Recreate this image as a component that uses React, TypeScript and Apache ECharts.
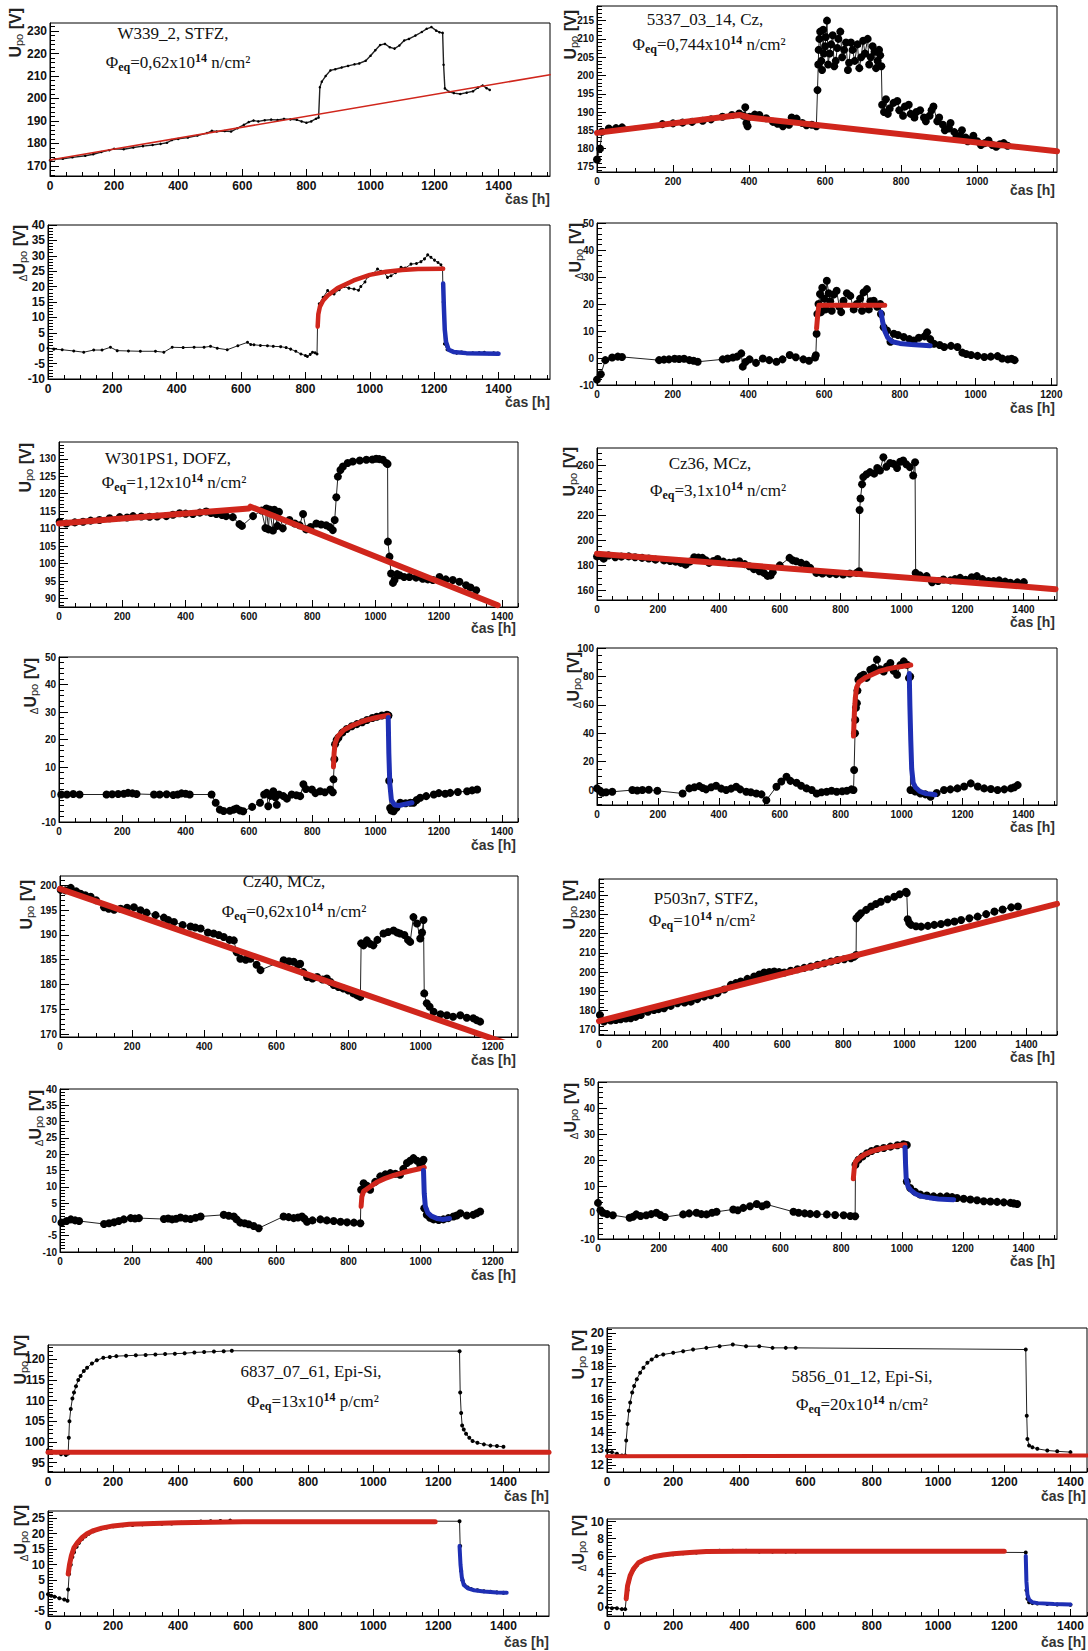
import React, { useEffect, useRef } from 'react';
import * as echarts from 'echarts';

type Pt = [number, number];

// ---------- tick labels ----------
const XT_1400 = [0, 200, 400, 600, 800, 1000, 1200, 1400];
const XT_1200 = [0, 200, 400, 600, 800, 1000, 1200];
const XT_1000 = [0, 200, 400, 600, 800, 1000];
const A1_YT = [170, 180, 190, 200, 210, 220, 230];
const B1_YT = [175, 180, 185, 190, 195, 200, 205, 210, 215];
const A2_YT = [-10, -5, 0, 5, 10, 15, 20, 25, 30, 35, 40];
const B2_YT = [-10, 0, 10, 20, 30, 40, 50];
const A3_YT = [90, 95, 100, 105, 110, 115, 120, 125, 130];
const B3_YT = [160, 180, 200, 220, 240, 260];
const A4_YT = [-10, 0, 10, 20, 30, 40, 50];
const B4_YT = [0, 20, 40, 60, 80, 100];
const A5_YT = [170, 175, 180, 185, 190, 195, 200];
const B5_YT = [170, 180, 190, 200, 210, 220, 230, 240];
const A6_YT = [-10, -5, 0, 5, 10, 15, 20, 25, 30, 35, 40];
const B6_YT = [-10, 0, 10, 20, 30, 40, 50];
const A7_YT = [95, 100, 105, 110, 115, 120];
const B7_YT = [12, 13, 14, 15, 16, 17, 18, 19, 20];
const A8_YT = [-5, 0, 5, 10, 15, 20, 25];
const B8_YT = [0, 2, 4, 6, 8, 10];

// ---------- series values [time h, voltage V] ----------
const A1_DATA: Pt[] = [[0,172.5],[15,173],[40,173.2],[70,173.8],[110,174.5],[135,175.2],[160,176.2],[185,177],[200,177.6],[230,177.4],[260,178.2],[290,178.8],[320,179.3],[345,179.8],[365,180.3],[380,181.5],[400,182],[430,182.6],[460,183.5],[490,184.6],[505,185.6],[520,185.3],[545,185.5],[565,185.3],[585,186.8],[605,188.3],[620,189.5],[635,190.2],[650,189.8],[670,190.3],[690,190.6],[710,190.4],[730,190.9],[750,190.7],[770,190.5],[785,189.8],[800,189.2],[815,189.8],[830,191],[838,191.5],[842,205],[848,207.5],[860,210],[875,212.5],[890,213],[910,213.8],[930,214.5],[950,215.2],[965,215.6],[985,216.8],[1000,219],[1015,221.5],[1030,223.8],[1045,224.3],[1060,222.8],[1075,222.2],[1090,223.6],[1105,225.8],[1120,226.5],[1140,228],[1160,229.6],[1175,231],[1190,231.8],[1205,230.2],[1215,229.5],[1225,229.2],[1228,215],[1232,204.5],[1245,203],[1260,202.4],[1280,202],[1300,202.6],[1320,203.2],[1335,204.8],[1350,205.8],[1362,204.6],[1372,203.8]];
const A1_RED: Pt[] = [[0,172.6],[1560,210.6]];

const A2_DATA: Pt[] = [[0,0],[18,-0.3],[44,-0.5],[80,-0.9],[111,-1.3],[142,-0.6],[168,-0.6],[194,0.3],[215,-0.8],[250,-0.9],[287,-1],[334,-1],[360,-1.3],[386,0.3],[420,0.2],[454,0.3],[485,0.3],[505,0.6],[526,0],[557,-0.5],[590,0.8],[620,1.9],[630,1.2],[640,1.1],[660,0.9],[682,0.8],[700,0.6],[723,0.5],[740,0.2],[754,-0.3],[770,-1],[786,-1.9],[800,-2.4],[806,-2.7],[815,-2],[822,-1.3],[830,-1.5],[836,-1.9],[838,10],[843,14.4],[855,16.5],[869,18.7],[880,17.8],[889,17.6],[905,19],[920,20],[935,19.5],[951,19.2],[965,18.8],[972,20],[985,21.5],[993,23.2],[1010,24.2],[1024,25.7],[1035,25],[1045,24.6],[1055,23],[1066,23.5],[1080,24.5],[1097,26.3],[1110,26],[1128,27.3],[1145,27.5],[1159,28.1],[1170,29],[1180,30.3],[1190,29.5],[1201,28.6],[1212,27.8],[1221,27.1],[1226,26],[1228,15],[1232,1.4],[1240,-0.5],[1253,-0.8],[1270,-1.6],[1285,-1.2],[1305,-1.7],[1320,-1.5],[1340,-1.4],[1356,-1.3],[1370,-1.8],[1385,-1.5],[1398,-1.6]];
const A2_RED: Pt[] = [[838,7],[840,11],[845,13.5],[855,15.5],[870,17.2],[900,19.5],[950,22],[1000,23.8],[1050,24.8],[1100,25.4],[1150,25.7],[1228,25.8]];
const A2_BLUE: Pt[] = [[1228,21],[1230,14],[1233,6],[1237,2],[1245,-0.5],[1260,-1.2],[1300,-1.6],[1350,-1.7],[1400,-1.8]];

const B1_DATA: Pt[] = [[0,177],[8,180],[13,184.6],[31,185.5],[50,185.6],[66,185.8],[172,186.7],[200,186.9],[225,187.1],[250,187.3],[278,187.6],[300,188],[330,188.7],[355,189.2],[374,189.6],[385,189],[390,191.3],[393,187],[396,186.1],[401,188.7],[415,189.3],[427,189.2],[445,188.3],[463,187.3],[475,186.8],[489,186.1],[505,186.5],[512,188.5],[525,188.2],[540,187],[551,186.4],[565,186.5],[577,186.1],[580,196],[582,203],[583,207],[585,210],[587,212],[590,204],[592,201.5],[595,212.5],[597,206],[600,208],[602,210.5],[605,215],[608,203],[612,206],[616,208.5],[620,211],[624,202.5],[628,204],[632,207.5],[635,210],[640,212],[645,205],[650,207],[655,209],[660,201.5],[663,203.5],[668,209],[672,207],[678,204],[685,208.5],[690,202],[695,205],[700,209.5],[705,206],[712,210],[716,203],[720,205],[725,208],[730,206.5],[734,202],[738,204],[742,207],[745,205.5],[748,202.5],[750,192],[755,190],[760,193.5],[765,189.5],[770,191],[780,192.5],[790,193],[795,190.5],[805,189],[810,191.5],[820,192],[825,189.5],[835,188.5],[840,190],[850,190.5],[860,188.5],[865,187.5],[875,189],[880,190.5],[885,191.5],[895,187.5],[900,188.5],[910,186.5],[915,185],[925,185.5],[930,187],[940,184.5],[945,183],[955,183.5],[960,185],[970,183],[975,182],[985,182.5],[990,183.5],[1000,182],[1010,181],[1020,181.5],[1030,182.2],[1040,181],[1050,180.5],[1060,181.2],[1070,181.5],[1080,180.8]];
const B1_RED: Pt[] = [[0,184.3],[375,189.2],[400,188.5],[1210,179.3]];

const B2_DATA: Pt[] = [[0,-8],[10,-6],[22,-0.8],[40,0.2],[55,0.5],[66,0.4],[164,-0.8],[177,-0.6],[190,-0.5],[205,-0.3],[217,-0.4],[230,-0.3],[244,-0.8],[255,-1],[266,-1.4],[332,-0.5],[345,-0.2],[359,0.2],[370,0.5],[381,1.7],[385,-3.2],[392,-1.5],[403,-0.5],[420,-1.8],[438,-0.2],[455,-0.8],[474,-1.4],[490,-0.5],[509,1.1],[525,0.3],[545,-0.5],[560,-1],[576,0.2],[578,1],[580,9],[582,16.3],[585,20],[589,23.7],[592,17],[595,26],[600,22],[604,18],[607,28.6],[612,24],[616,21],[620,17.5],[625,23.5],[633,24.9],[640,19],[645,17],[651,21.2],[660,24],[669,23],[678,18],[686,20],[695,22],[700,17.5],[704,24.3],[713,25.5],[718,18],[722,21],[731,21.2],[740,19],[748,20],[750,16.3],[757,11.4],[766,10.2],[775,6],[784,9],[795,8.5],[810,7.8],[825,7],[837,6.5],[850,7.5],[865,8],[872,9.5],[880,7],[890,5.3],[905,4.8],[917,4.1],[935,4.5],[952,4.1],[965,2],[975,1.5],[988,1.1],[1005,0.8],[1023,0.4],[1040,0.5],[1058,0.7],[1070,-0.2],[1085,-0.5],[1095,-0.3],[1103,-0.8]];
const B2_RED: Pt[] = [[580,11],[583,16],[586,19.5],[650,19.5],[760,19.5]];
const B2_BLUE: Pt[] = [[750,17],[755,13],[760,10],[768,7.5],[780,6],[800,5.4],[830,5],[860,4.7],[880,4.5]];

const A3_DATA: Pt[] = [[2,112],[23,111.5],[50,111.8],[76,112],[100,112.3],[128,112.5],[160,113],[192,113.3],[215,113.2],[234,113.6],[260,113.5],[286,113.4],[310,113.5],[339,113.6],[360,114],[381,114.4],[400,114.3],[423,114.2],[445,114.6],[465,114.9],[480,114.5],[497,114.2],[515,113.9],[528,113.6],[549,113.3],[570,111.3],[578,110.8],[613,113.6],[640,115.2],[652,110.2],[655,115.8],[662,109.8],[665,115.5],[676,109.5],[680,115.4],[690,110.8],[695,114.8],[707,110.1],[728,112.5],[745,111.5],[760,111],[771,114.2],[781,109.8],[795,110.5],[813,111.5],[828,111.2],[844,111],[855,110.5],[865,109.6],[871,112.5],[876,119],[881,124.9],[889,126.8],[897,127.8],[912,128.8],[928,129.2],[950,129.5],[971,129.7],[990,129.8],[1002,130],[1012,129.9],[1023,129.7],[1034,128.8],[1038,128.5],[1039,106.3],[1044,102],[1049,97.2],[1055,94.5],[1060,95.3],[1068,97],[1076,96.7],[1090,96.2],[1107,96.2],[1128,96],[1149,95.7],[1165,95.5],[1181,95.3],[1202,96.2],[1222,95.5],[1244,95.3],[1265,94.8],[1286,93.8],[1300,93.2],[1318,92.4]];
const A3_RED1: Pt[] = [[0,111.5],[600,115.8]];
const A3_RED2: Pt[] = [[605,116.3],[1386,88.1]];

const B3_DATA: Pt[] = [[0,187.2],[22,185.4],[38,188],[60,186.5],[80,187],[104,187.2],[125,186.5],[148,186],[170,185.5],[192,184.6],[220,184],[240,183.5],[258,183],[275,182],[291,180.6],[305,183],[319,186.5],[333,186.2],[346,186],[358,184],[368,182],[382,183.5],[396,185.1],[415,183],[434,182],[450,182.5],[467,183.3],[485,181],[500,179.3],[515,177],[533,175.3],[548,174],[560,171.6],[570,172],[577,174.6],[600,180],[632,186],[643,184],[654,183.3],[670,182],[687,180.6],[700,178],[720,174],[740,173.5],[764,173.2],[785,173],[808,172.7],[830,173.5],[852,174],[860,175.3],[862,224.3],[865,233.5],[870,245],[874,250.7],[885,253],[896,254.7],[910,253.5],[920,258],[929,256],[940,266.6],[950,259],[962,262],[973,261.3],[985,258],[995,263],[1005,264],[1015,261],[1027,258.7],[1038,252],[1044,262.6],[1046,174],[1060,172],[1082,171.4],[1100,166.5],[1120,167.5],[1137,168.7],[1160,168],[1175,169],[1192,170],[1210,168.5],[1230,170.5],[1247,171.4],[1265,169],[1285,167.5],[1302,167.4],[1320,168],[1340,167],[1357,166.1],[1380,166.4],[1401,166.6]];
const B3_RED: Pt[] = [[0,189.4],[1505,161]];

const A4_DATA: Pt[] = [[7,0],[25,0],[45,0.2],[65,0],[150,0],[168,0.1],[187,0.2],[205,0.3],[218,0.6],[232,0.4],[245,0.2],[300,0],[318,0],[340,0.1],[361,-0.2],[375,0],[387,0.4],[400,0.3],[413,0],[482,0],[495,-3],[508,-5.5],[520,-6],[540,-5.9],[552,-5.5],[561,-5.1],[572,-5.8],[582,-6.1],[610,-4.5],[635,-3],[648,0],[656,0.6],[661,-4.3],[668,-0.5],[677,1.2],[683,-1],[688,-3.7],[695,0],[709,-0.6],[720,-1.5],[735,0],[750,-0.3],[762,-0.6],[772,3.7],[780,2],[799,1.8],[810,0.5],[825,1.2],[840,0.8],[857,1.8],[865,0.8],[867,5.5],[870,12.8],[872,18.3],[877,19.8],[883,20.7],[895,22.5],[909,23.8],[925,24.8],[941,25.6],[958,26.3],[973,27.1],[990,27.8],[1004,28.3],[1020,28.7],[1036,29],[1041,28.7],[1043,5],[1046,-4.9],[1050,-5.8],[1057,-6.1],[1066,-4.8],[1078,-3],[1095,-3.2],[1110,-3],[1120,-3],[1130,-2],[1141,-1.2],[1160,-0.6],[1184,0],[1200,0.5],[1220,0.3],[1236,0.6],[1260,0.9],[1289,1.2],[1305,1.5],[1321,1.8]];
const A4_RED: Pt[] = [[867,10],[869,15],[872,18.5],[880,21],[900,23.5],[925,25],[950,26.2],[975,27.2],[1000,27.9],[1040,28.8]];
const A4_BLUE: Pt[] = [[1040,28],[1042,15],[1045,4],[1050,-2],[1060,-3.8],[1075,-4],[1090,-3.6],[1115,-3]];

const B4_DATA: Pt[] = [[0,1.2],[10,-0.5],[17,-1.9],[30,-1.5],[50,-1.2],[116,0],[132,-0.3],[149,0],[170,0.2],[198,-0.5],[281,-2.4],[303,1.2],[320,2],[336,2.8],[347,1.5],[358,0.5],[375,2],[391,3.1],[408,1],[424,0],[440,1],[457,2.4],[470,0.5],[490,-1.2],[505,-1.5],[523,-2.4],[540,-3],[556,-7.1],[589,2.4],[605,6],[622,9.4],[635,6.5],[655,5.2],[670,3],[688,1.2],[705,0],[721,-2.4],[737,-1.5],[754,-1.2],[770,-0.5],[787,-1.2],[805,-0.8],[820,-0.5],[835,0.5],[842,0],[844,14.1],[847,40],[848,49.4],[850,58],[853,61.2],[855,70],[858,77.6],[865,80],[875,81.2],[885,79],[897,84.7],[908,86],[919,91.8],[930,85],[941,83.5],[952,87],[963,89.4],[974,84],[985,81.2],[996,88],[1007,90.6],[1018,88.2],[1024,78.8],[1028,80],[1029,0],[1045,-1],[1062,-2.4],[1078,-3],[1095,-4.7],[1115,-2],[1139,0],[1160,0.5],[1183,1.2],[1205,2.5],[1227,4.7],[1250,2.5],[1271,1.2],[1293,0.8],[1315,0],[1337,0.5],[1359,1.2],[1370,2],[1381,3.5]];
const B4_RED: Pt[] = [[842,38],[845,55],[848,65],[852,72],[860,76],[880,79],[900,81],[925,83.5],[950,85],[975,86.2],[1000,87],[1030,88]];
const B4_BLUE: Pt[] = [[1025,82],[1027,60],[1030,35],[1033,15],[1038,5],[1045,2],[1060,-1],[1080,-2.5],[1100,-3],[1110,-3.3]];

const A5_DATA: Pt[] = [[2,199.1],[15,199],[30,199.5],[45,198.8],[57,198.3],[70,198],[85,197.7],[100,197],[122,195.6],[135,195.3],[150,195.1],[168,195.3],[186,195.5],[205,195.6],[223,195],[240,194.5],[265,194],[288,193.5],[300,193],[316,192.6],[340,192],[362,191.7],[375,191.5],[390,191.3],[410,190.5],[426,190.3],[440,190],[454,189.6],[470,189],[482,188.9],[490,186.5],[500,185.2],[515,185],[528,185.2],[545,184],[556,182.9],[620,184.9],[635,184.7],[648,184.6],[660,184],[666,184.2],[675,182.5],[685,181.5],[700,181.2],[713,181.5],[728,181],[740,181.2],[750,180.5],[759,179.9],[772,179.5],[786,179.2],[800,178.8],[814,178.2],[825,177.8],[833,177.5],[835,188.3],[842,187.9],[851,188.9],[860,188.2],[869,187.9],[880,189],[897,190.3],[910,190.6],[925,190.9],[935,190.5],[943,190.3],[955,190],[965,189],[971,188.6],[980,193.6],[990,192.3],[999,189.3],[1004,190.5],[1008,193],[1010,178.2],[1017,176.2],[1025,175.5],[1036,174.5],[1055,174],[1073,173.8],[1090,173.5],[1110,173.8],[1128,173.3],[1146,173.2],[1155,172.8],[1165,172.5]];
const A5_RED: Pt[] = [[0,199.3],[1270,167.3]];

const B5_DATA: Pt[] = [[3,177.8],[16,174.4],[38,174.9],[55,175.2],[71,175.6],[88,176],[104,176.1],[120,176.8],[137,177.8],[160,179.5],[180,180.4],[195,180.8],[213,181.3],[235,182.5],[257,183.9],[280,184.3],[301,184.7],[322,186],[344,187.3],[366,188],[388,189.1],[410,191],[432,193.4],[448,194.3],[464,195.1],[486,196.5],[508,197.7],[525,198.8],[541,199.8],[558,200.1],[574,200.3],[590,200],[607,199.8],[628,200.7],[650,201.5],[672,202.2],[694,202.9],[716,203.8],[738,204.6],[760,205.5],[781,206.3],[803,206.7],[825,207.2],[835,208],[842,208.9],[843,227.9],[850,229.3],[858,230.5],[875,232.3],[891,234],[907,235.3],[923,236.5],[945,237.8],[967,239.1],[985,240.4],[1005,241.7],[1008,241],[1011,227.4],[1016,225.5],[1022,224.5],[1038,223.8],[1055,223.6],[1077,224],[1098,224.5],[1120,225],[1142,225.7],[1164,226.3],[1186,227],[1213,227.9],[1240,228.8],[1268,230.1],[1295,231.4],[1322,232.5],[1350,233.6],[1372,234]];
const B5_RED: Pt[] = [[0,174.6],[1500,235.4]];

const A6_DATA: Pt[] = [[4,-1],[18,-0.5],[30,0],[42,-0.3],[53,-0.5],[122,-1.4],[136,-1.2],[150,-0.9],[163,-0.5],[177,0],[196,0.4],[208,0.3],[219,0.4],[288,0.1],[300,0.3],[311,0],[322,0.2],[334,0.6],[348,0.3],[362,0.1],[376,0.5],[390,0.9],[454,1.4],[468,1.1],[482,0.9],[490,0],[500,-1],[512,-1.2],[523,-1.5],[537,-2],[551,-2.7],[620,0.9],[634,0.7],[648,0.4],[660,0.6],[671,0.9],[678,0.2],[685,-0.7],[700,-0.3],[722,0],[740,-0.3],[759,-0.5],[778,-0.7],[796,-0.9],[815,-1],[833,-1.2],[835,9.1],[842,11.1],[851,10.3],[860,9.1],[874,11.5],[888,13.2],[902,13.8],[916,14.2],[930,14],[943,13.7],[952,15.5],[962,17.3],[971,18],[980,18.8],[990,18],[999,16.7],[1004,17.5],[1008,18.3],[1010,3.4],[1017,1.4],[1026,0.5],[1036,0],[1050,-0.2],[1063,0],[1077,0.4],[1091,0.9],[1100,1.2],[1110,1.9],[1128,1.2],[1146,1.4],[1156,1.9],[1165,2.4]];
const A6_RED: Pt[] = [[835,4],[837,7],[842,8.6],[860,10],[880,11.5],[900,12.5],[925,13.5],[950,14.3],[975,15],[1000,15.6],[1010,16]];
const A6_BLUE: Pt[] = [[1008,15],[1010,8],[1013,4],[1020,2],[1030,1],[1045,0.3],[1060,0],[1080,0.3]];

const B6_DATA: Pt[] = [[0,3.8],[8,1],[16,0],[30,-0.5],[49,-0.9],[104,-1.9],[115,-1.5],[126,-0.6],[140,-1.2],[159,-0.9],[175,-0.5],[192,0],[205,-0.8],[220,-1.6],[280,-0.6],[300,-0.2],[324,0],[340,-0.5],[357,-0.6],[375,0],[390,0.4],[445,1.3],[460,1],[478,1.9],[500,2.5],[522,3.4],[540,2.5],[555,3.2],[643,0.4],[660,0],[680,-0.2],[698,-0.4],[720,-0.5],[753,-0.6],[780,-0.8],[808,-0.9],[830,-1.2],[846,-1.3],[847,18.4],[857,20.3],[870,21.5],[885,22.8],[900,23.6],[918,24.4],[940,24.8],[962,25.3],[985,25.8],[1005,26.2],[1016,25.9],[1016,12],[1027,9.5],[1043,8],[1060,7],[1082,6.6],[1104,6.3],[1126,6.2],[1148,6.3],[1165,6],[1181,5.7],[1203,5.4],[1225,5.1],[1247,4.8],[1269,4.4],[1291,4.3],[1313,4.2],[1335,4],[1357,3.8],[1368,3.6],[1379,3.4]];
const B6_RED: Pt[] = [[840,13],[843,17],[847,19.5],[860,21],[880,22.5],[900,23.5],[930,24.5],[960,25.2],[990,25.7],[1010,26]];
const B6_BLUE: Pt[] = [[1010,25],[1012,18],[1014,13],[1020,10],[1030,8.5],[1045,7.2],[1065,6.3],[1090,5.8],[1120,5.3],[1150,5.1],[1170,5]];

const A7_DATA: Pt[] = [[0,98],[10,97.8],[25,97.5],[40,97],[55,96.8],[62,97.2],[64,101],[66,105],[70,108],[75,110.5],[80,112],[86,113.5],[93,115],[100,116],[110,117.2],[120,118],[135,119],[150,119.8],[170,120.4],[190,120.6],[210,120.8],[240,120.9],[270,121],[300,121.1],[330,121.2],[360,121.3],[390,121.4],[420,121.5],[450,121.7],[480,121.8],[510,121.9],[540,122],[565,122.1],[1265,122],[1267,112],[1270,107],[1273,104],[1278,103],[1285,102],[1295,101],[1305,100.2],[1320,99.8],[1340,99.4],[1360,99.1],[1380,99],[1400,98.8]];
const A7_RED: Pt[] = [[0,97.5],[1540,97.5]];

const B7_DATA: Pt[] = [[0,12.9],[15,12.8],[30,12.7],[45,12.6],[55,12.6],[58,13.5],[62,14.5],[66,15.3],[70,15.8],[76,16.4],[82,16.8],[90,17.2],[100,17.6],[110,17.9],[122,18.2],[135,18.4],[150,18.6],[170,18.7],[200,18.8],[230,18.9],[260,19],[300,19.1],[340,19.2],[380,19.3],[420,19.2],[460,19.2],[500,19.1],[540,19.1],[570,19.1],[1265,19],[1268,15],[1270,13.6],[1275,13.2],[1285,13.1],[1300,13],[1330,12.9],[1360,12.85],[1400,12.8]];
const B7_RED: Pt[] = [[0,12.55],[1450,12.6]];

const A8_DATA: Pt[] = [[0,0.5],[10,0],[20,-0.3],[35,-0.8],[50,-1.2],[60,-1.6],[62,2],[65,7],[70,10],[75,12.5],[80,14],[88,15.8],[95,17],[105,18.3],[115,19.2],[125,20],[140,20.8],[160,21.5],[180,22],[200,22.4],[230,22.7],[260,22.8],[290,23],[320,23.1],[350,23.2],[380,23.3],[410,23.5],[440,23.7],[470,23.9],[500,24],[530,24.1],[560,24.2],[1265,24],[1267,16],[1270,8],[1274,5],[1280,3.5],[1290,2.7],[1300,2.2],[1320,1.8],[1340,1.5],[1360,1.3],[1380,1.1],[1400,1]];
const A8_RED: Pt[] = [[62,7],[66,10],[72,13],[80,15.5],[90,17],[105,18.8],[120,20],[140,21],[165,21.8],[200,22.5],[250,23],[300,23.2],[400,23.5],[500,23.7],[600,23.8],[1190,23.8]];
const A8_BLUE: Pt[] = [[1265,16],[1268,10],[1272,6],[1278,3.5],[1290,2.4],[1310,1.8],[1340,1.4],[1380,1.1],[1410,1]];

const B8_DATA: Pt[] = [[0,0],[15,-0.1],[30,-0.1],[45,-0.2],[55,-0.2],[58,1],[62,2],[66,3],[72,3.8],[80,4.4],[90,4.9],[100,5.3],[115,5.6],[130,5.8],[150,6],[175,6.1],[200,6.2],[230,6.3],[270,6.4],[300,6.5],[340,6.6],[380,6.6],[420,6.6],[460,6.5],[500,6.5],[540,6.5],[570,6.5],[1265,6.4],[1267,2],[1270,1],[1275,0.6],[1285,0.5],[1300,0.45],[1330,0.4],[1360,0.35],[1400,0.3]];
const B8_RED: Pt[] = [[58,1],[62,2.5],[70,3.7],[80,4.5],[95,5.2],[115,5.6],[140,5.9],[170,6.1],[200,6.25],[250,6.4],[300,6.5],[400,6.55],[600,6.55],[1200,6.55]];
const B8_BLUE: Pt[] = [[1265,6],[1267,3],[1270,1.5],[1275,0.9],[1285,0.6],[1300,0.5],[1350,0.4],[1400,0.35]];

// ---------- annotation texts ----------
const TITLES: Record<string, [string, string, string, string]> = {
  A1: ['W339_2, STFZ,', '=0,62x10', '14', ' n/cm²'],
  B1: ['5337_03_14, Cz,', '=0,744x10', '14', ' n/cm²'],
  A3: ['W301PS1, DOFZ,', '=1,12x10', '14', ' n/cm²'],
  B3: ['Cz36, MCz,', '=3,1x10', '14', ' n/cm²'],
  A5: ['Cz40, MCz,', '=0,62x10', '14', ' n/cm²'],
  B5: ['P503n7, STFZ,', '=10', '14', ' n/cm²'],
  A7: ['6837_07_61, Epi-Si,', '=13x10', '14', ' p/cm²'],
  B7: ['5856_01_12, Epi-Si,', '=20x10', '14', ' n/cm²'],
};

const RED = '#d0261c';
const BLUE = '#1e2fb4';

type Fit = { d: Pt[]; c: string; w: number };
interface Panel {
  id: string;
  box: [number, number, number, number];
  x: [number, number];
  y: [number, number];
  xt: number[];
  yt: number[];
  xm: number;
  ym: number;
  du: boolean;
  data: Pt[];
  fits: Fit[];
  dot: number;
  lw: number;
  font: number;
  t1?: [number, number];
  t2?: [number, number];
  yn: [number, number];
  cas: [number, number];
}

const PANELS: Panel[] = [
  { id: 'A1', box: [50, 23, 550, 176], x: [0, 1560], y: [165.5, 233.6], xt: XT_1400, yt: A1_YT, xm: 50, ym: 2, du: false, data: A1_DATA, fits: [{ d: A1_RED, c: RED, w: 1.6 }], dot: 2.5, lw: 1.4, font: 12, t1: [173, 33], t2: [178, 62], yn: [15, 8], cas: [550, 199] },
  { id: 'B1', box: [597, 6, 1057, 172], x: [0, 1210], y: [173.6, 219], xt: XT_1000, yt: B1_YT, xm: 50, ym: 1, du: false, data: B1_DATA, fits: [{ d: B1_RED, c: RED, w: 6 }], dot: 8, lw: 1, font: 10, t1: [705, 19], t2: [709, 44], yn: [570, 10], cas: [1055, 190] },
  { id: 'A2', box: [48, 225, 550, 379], x: [0, 1560], y: [-10, 40], xt: XT_1400, yt: A2_YT, xm: 50, ym: 1, du: true, data: A2_DATA, fits: [{ d: A2_RED, c: RED, w: 4.5 }, { d: A2_BLUE, c: BLUE, w: 4.5 }], dot: 3, lw: 1, font: 12, yn: [19, 225], cas: [550, 402] },
  { id: 'B2', box: [597, 223, 1057, 385], x: [0, 1215], y: [-10, 50], xt: XT_1200, yt: B2_YT, xm: 50, ym: 2, du: true, data: B2_DATA, fits: [{ d: B2_RED, c: RED, w: 5 }, { d: B2_BLUE, c: BLUE, w: 5 }], dot: 8, lw: 1, font: 10, yn: [575, 223], cas: [1055, 408] },
  { id: 'A3', box: [59, 442, 518, 607], x: [0, 1450], y: [87.6, 134.8], xt: XT_1400, yt: A3_YT, xm: 50, ym: 1, du: false, data: A3_DATA, fits: [{ d: A3_RED1, c: RED, w: 6 }, { d: A3_RED2, c: RED, w: 6 }], dot: 8, lw: 1, font: 10, t1: [168, 458], t2: [174, 482], yn: [25, 443], cas: [516, 628] },
  { id: 'B3', box: [597, 448, 1057, 600], x: [0, 1510], y: [152.3, 274], xt: XT_1400, yt: B3_YT, xm: 50, ym: 5, du: false, data: B3_DATA, fits: [{ d: B3_RED, c: RED, w: 6 }], dot: 8, lw: 1, font: 10, t1: [710, 463], t2: [718, 490], yn: [569, 447], cas: [1055, 622] },
  { id: 'A4', box: [59, 657, 518, 822], x: [0, 1450], y: [-10, 50], xt: XT_1400, yt: A4_YT, xm: 50, ym: 2, du: true, data: A4_DATA, fits: [{ d: A4_RED, c: RED, w: 5 }, { d: A4_BLUE, c: BLUE, w: 5 }], dot: 8, lw: 1, font: 10, yn: [30, 658], cas: [516, 845] },
  { id: 'B4', box: [597, 648, 1057, 805], x: [0, 1510], y: [-10.5, 100], xt: XT_1400, yt: B4_YT, xm: 50, ym: 5, du: true, data: B4_DATA, fits: [{ d: B4_RED, c: RED, w: 5 }, { d: B4_BLUE, c: BLUE, w: 5 }], dot: 8, lw: 1, font: 10, yn: [573, 652], cas: [1055, 827] },
  { id: 'A5', box: [60, 876, 518, 1037], x: [0, 1270], y: [169.4, 201.9], xt: XT_1200, yt: A5_YT, xm: 50, ym: 1, du: false, data: A5_DATA, fits: [{ d: A5_RED, c: RED, w: 6 }], dot: 8, lw: 1, font: 10, t1: [284, 881], t2: [294, 911], yn: [26, 880], cas: [516, 1060] },
  { id: 'B5', box: [599, 879, 1057, 1035], x: [0, 1500], y: [167.4, 248.3], xt: XT_1400, yt: B5_YT, xm: 50, ym: 2, du: false, data: B5_DATA, fits: [{ d: B5_RED, c: RED, w: 6 }], dot: 8, lw: 1, font: 10, t1: [706, 898], t2: [702, 920], yn: [569, 880], cas: [1055, 1057] },
  { id: 'A6', box: [60, 1089, 518, 1252], x: [0, 1270], y: [-10, 40], xt: XT_1200, yt: A6_YT, xm: 50, ym: 1, du: true, data: A6_DATA, fits: [{ d: A6_RED, c: RED, w: 5 }, { d: A6_BLUE, c: BLUE, w: 5 }], dot: 8, lw: 1, font: 10, yn: [35, 1090], cas: [516, 1275] },
  { id: 'B6', box: [598, 1082, 1057, 1239], x: [0, 1510], y: [-10, 50], xt: XT_1400, yt: B6_YT, xm: 50, ym: 2, du: true, data: B6_DATA, fits: [{ d: B6_RED, c: RED, w: 5 }, { d: B6_BLUE, c: BLUE, w: 5 }], dot: 8, lw: 1, font: 10, yn: [570, 1083], cas: [1055, 1261] },
  { id: 'A7', box: [48, 1345, 549, 1472], x: [0, 1540], y: [92.7, 123.5], xt: XT_1400, yt: A7_YT, xm: 50, ym: 1, du: false, data: A7_DATA, fits: [{ d: A7_RED, c: RED, w: 5 }], dot: 4, lw: 1, font: 12, t1: [311, 1371], t2: [313, 1401], yn: [20, 1335], cas: [549, 1496] },
  { id: 'B7', box: [607, 1328, 1087, 1472], x: [0, 1450], y: [11.6, 20.3], xt: XT_1400, yt: B7_YT, xm: 50, ym: 0.2, du: false, data: B7_DATA, fits: [{ d: B7_RED, c: RED, w: 4 }], dot: 4, lw: 1, font: 12, t1: [862, 1376], t2: [862, 1404], yn: [578, 1330], cas: [1086, 1496] },
  { id: 'A8', box: [48, 1511, 549, 1616], x: [0, 1540], y: [-6.5, 27.3], xt: XT_1400, yt: A8_YT, xm: 50, ym: 1, du: true, data: A8_DATA, fits: [{ d: A8_RED, c: RED, w: 5 }, { d: A8_BLUE, c: BLUE, w: 4 }], dot: 4, lw: 1, font: 12, yn: [20, 1505], cas: [549, 1642] },
  { id: 'B8', box: [607, 1519, 1087, 1616], x: [0, 1450], y: [-1, 10.3], xt: XT_1400, yt: B8_YT, xm: 50, ym: 0.4, du: true, data: B8_DATA, fits: [{ d: B8_RED, c: RED, w: 5 }, { d: B8_BLUE, c: BLUE, w: 4 }], dot: 4, lw: 1, font: 12, yn: [578, 1515], cas: [1086, 1642] },
];

function minorTicks(min: number, max: number, step: number, majors: number[]): number[] {
  const out: number[] = [];
  const k0 = Math.ceil(min / step - 1e-9);
  const k1 = Math.floor(max / step + 1e-9);
  for (let k = k0; k <= k1; k++) {
    const v = Math.round(k * step * 1e6) / 1e6;
    if (!majors.some((m) => Math.abs(m - v) < 1e-6)) out.push(v);
  }
  return out;
}

const LABEL_FONT = 'Liberation Sans, Arial, Helvetica, sans-serif';
const SERIF = 'Liberation Serif, Times New Roman, serif';

function buildOption() {
  const grid: any[] = [];
  const xAxis: any[] = [];
  const yAxis: any[] = [];
  const series: any[] = [];
  const graphic: any[] = [];

  PANELS.forEach((p, i) => {
    const [L, T, R, B] = p.box;
    grid.push({ left: L, top: T, width: R - L, height: B - T, show: true, borderColor: '#000', borderWidth: 1, backgroundColor: 'rgba(0,0,0,0)', containLabel: false, outerBoundsMode: 'none' });
    const mk = (dim: 'x' | 'y') => {
      const [min, max] = dim === 'x' ? p.x : p.y;
      const majors = (dim === 'x' ? p.xt : p.yt).filter((v) => v >= min - 1e-9 && v <= max + 1e-9);
      const minors = minorTicks(min, max, dim === 'x' ? p.xm : p.ym, majors);
      const base = { type: 'value', gridIndex: i, min, max, position: dim === 'x' ? 'bottom' : 'left', splitLine: { show: false }, scale: true };
      const main = {
        ...base,
        axisLine: { show: true, onZero: false, lineStyle: { color: '#000', width: 1 } },
        axisTick: { show: true, inside: true, length: dim === 'x' ? 7 : 9, customValues: majors, lineStyle: { color: '#000', width: 1 } },
        axisLabel: { show: true, customValues: majors, formatter: (v: number) => String(v), fontFamily: LABEL_FONT, fontWeight: 'bold', fontSize: p.font, color: '#111', margin: dim === 'x' ? 4 : 3 },
      };
      const minor = {
        ...base,
        axisLine: { show: false, onZero: false },
        axisTick: { show: true, inside: true, length: dim === 'x' ? 4 : 5, customValues: minors, lineStyle: { color: '#000', width: 1 } },
        axisLabel: { show: false },
      };
      return [main, minor];
    };
    xAxis.push(...mk('x'));
    yAxis.push(...mk('y'));
    const ax = 2 * i;
    series.push({
      type: 'line', xAxisIndex: ax, yAxisIndex: ax, data: p.data, symbol: 'circle', symbolSize: p.dot, showSymbol: true,
      lineStyle: { color: '#222', width: p.lw }, itemStyle: { color: '#000' }, clip: true, silent: true, z: 2,
    });
    p.fits.forEach((f) => {
      series.push({
        type: 'line', xAxisIndex: ax, yAxisIndex: ax, data: f.d, showSymbol: false, symbol: 'none', smooth: false,
        lineStyle: { color: f.c, width: f.w, cap: 'round', join: 'round' }, clip: true, silent: true, z: 3,
      });
    });

    // y axis title
    const ytext = p.du ? '{d|Δ}{u|U}{s|po}{u| [V]}' : '{u|U}{s|po}{u| [V]}';
    graphic.push({
      type: 'text', x: p.yn[0], y: p.yn[1], rotation: Math.PI / 2, z: 10,
      style: {
        text: ytext, align: 'right', verticalAlign: 'middle', fill: '#222',
        rich: {
          u: { fontFamily: LABEL_FONT, fontWeight: 'bold', fontSize: 16, lineHeight: 18, fill: '#222' },
          s: { fontFamily: LABEL_FONT, fontSize: 11, lineHeight: 9, verticalAlign: 'bottom', fill: '#222' },
          d: { fontFamily: LABEL_FONT, fontSize: 10, lineHeight: 9, verticalAlign: 'bottom', fill: '#222' },
        },
      },
    });
    // x axis title
    graphic.push({
      type: 'text', x: p.cas[0], y: p.cas[1], z: 10,
      style: { text: 'čas [h]', align: 'right', verticalAlign: 'middle', fill: '#333', font: `bold 14px ${LABEL_FONT}` },
    });
    // annotation
    const t = TITLES[p.id];
    if (t && p.t1 && p.t2) {
      graphic.push({
        type: 'text', x: p.t1[0], y: p.t1[1], z: 10,
        style: { text: t[0], align: 'center', verticalAlign: 'middle', fill: '#111', font: `17px ${SERIF}` },
      });
      graphic.push({
        type: 'text', x: p.t2[0], y: p.t2[1], z: 10,
        style: {
          text: `{n|Φ}{e|eq}{n|${t[1]}}{p|${t[2]}}{n|${t[3]}}`, align: 'center', verticalAlign: 'middle',
          rich: {
            n: { fontFamily: SERIF, fontSize: 17, lineHeight: 21, fill: '#111' },
            e: { fontFamily: SERIF, fontSize: 12, fontWeight: 'bold', lineHeight: 12, verticalAlign: 'bottom', fill: '#111' },
            p: { fontFamily: SERIF, fontSize: 12, fontWeight: 'bold', lineHeight: 12, verticalAlign: 'top', fill: '#111' },
          },
        },
      });
    }
  });

  return { animation: false, backgroundColor: '#fff', grid, xAxis, yAxis, series, graphic };
}

export default function App() {
  const ref = useRef<HTMLDivElement>(null);
  useEffect(() => {
    const chart = echarts.init(ref.current!, null, { renderer: 'svg', width: 1088, height: 1651 });
    chart.setOption(buildOption() as any);
    return () => chart.dispose();
  }, []);
  return <div ref={ref} style={{ position: 'absolute', left: 0, top: 0, width: 1088, height: 1651, background: '#fff' }} />;
}
